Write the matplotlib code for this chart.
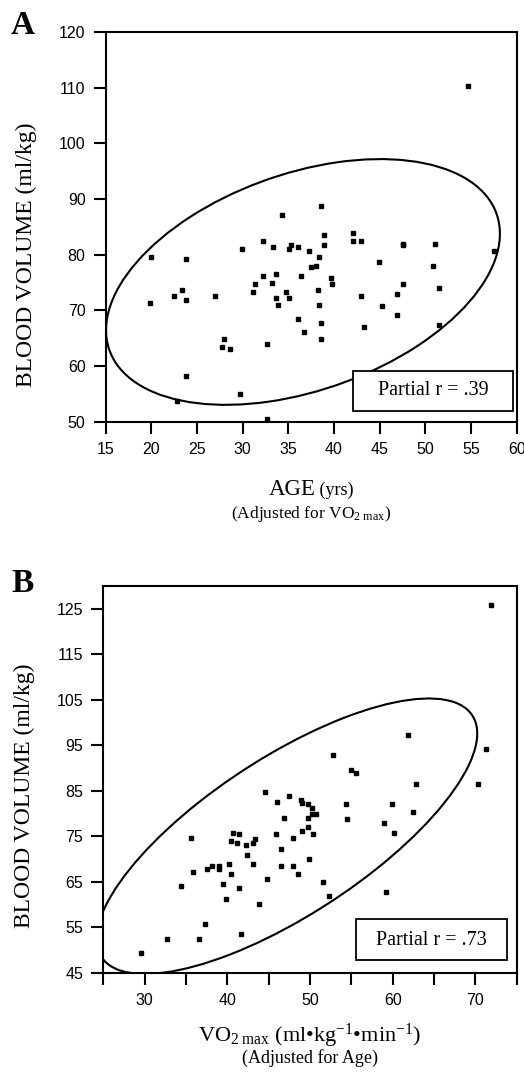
import matplotlib
matplotlib.use('Agg')
import matplotlib.pyplot as plt
from matplotlib.patches import Ellipse, Rectangle

# ---------------- Data ----------------
# Panel A: age (yrs) vs blood volume (ml/kg), adjusted for VO2max
age_a = [54.7, 34.3, 38.6, 38.9, 42.1, 42.1, 43.0, 32.2, 29.9, 33.3,
         35.3, 35.1, 36.0, 37.3, 38.9, 38.4, 47.5, 47.5, 51.1, 57.5,
         20.0, 23.8, 44.9, 50.8, 37.5, 38.0, 32.2, 33.6, 36.4, 39.7,
         39.8, 31.4, 33.2, 47.6, 51.5, 31.1, 34.7, 38.2, 46.9, 43.0,
         27.0, 22.5, 23.3, 23.8, 19.8, 33.6, 35.1, 33.9, 38.4, 45.2,
         46.9, 36.0, 38.6, 43.3, 36.7, 51.5, 27.9, 27.7, 28.6, 32.7,
         38.6, 23.8, 29.7, 22.8, 32.7]
bv_a = [110.3, 87.2, 88.7, 83.5, 83.9, 82.5, 82.5, 82.5, 81.0, 81.3,
        81.7, 81.0, 81.3, 80.6, 81.7, 79.5, 82.0, 81.7, 82.0, 80.6,
        79.5, 79.3, 78.7, 78.0, 77.7, 78.0, 76.2, 76.6, 76.2, 75.8,
        74.7, 74.7, 75.0, 74.7, 74.0, 73.3, 73.3, 73.6, 72.9, 72.5,
        72.5, 72.5, 73.6, 71.8, 71.4, 72.2, 72.2, 71.0, 71.0, 70.7,
        69.2, 68.4, 67.8, 67.0, 66.2, 67.4, 64.8, 63.4, 63.0, 64.0,
        64.8, 58.2, 54.9, 53.8, 50.4]

# Panel B: VO2max (ml/kg/min) vs blood volume (ml/kg), adjusted for age
vo2_b = [71.9, 61.8, 71.3, 52.8, 55.0, 55.6, 62.8, 70.3, 44.6, 47.5,
         46.0, 48.9, 49.0, 49.7, 50.2, 50.2, 50.7, 54.3, 59.9, 62.5,
         54.5, 46.8, 49.7, 58.9, 49.7, 49.0, 60.1, 50.4, 45.9, 40.7,
         41.4, 48.0, 35.6, 40.5, 41.2, 43.3, 43.1, 42.2, 46.5, 42.4,
         49.9, 40.2, 43.1, 46.5, 48.0, 38.1, 39.0, 37.5, 39.0, 35.9,
         40.5, 48.5, 44.8, 51.6, 39.5, 34.4, 41.4, 59.2, 52.3, 39.8,
         43.8, 37.3, 41.7, 32.7, 36.6, 29.6]
bv_b = [125.9, 97.3, 94.1, 92.8, 89.5, 89.0, 86.5, 86.5, 84.7, 83.9,
        82.5, 83.0, 82.4, 82.0, 81.2, 79.8, 79.8, 82.0, 82.0, 80.3,
        78.8, 78.9, 78.9, 78.0, 77.1, 76.2, 75.7, 75.4, 75.4, 75.8,
        75.4, 74.5, 74.5, 74.0, 73.6, 74.4, 73.6, 73.1, 72.2, 70.8,
        69.9, 69.0, 69.0, 68.5, 68.5, 68.5, 68.5, 67.7, 67.8, 67.2,
        66.8, 66.8, 65.5, 65.0, 64.6, 64.1, 63.7, 62.8, 61.9, 61.1,
        60.0, 55.6, 53.4, 52.4, 52.4, 49.4]

# Ellipse parameters (centre x, centre y, full width, full height, angle)
ell_a = (36.6, 75.1, 51.5, 34.0, 46.7)
ell_b = (47.2, 75.0, 71.5, 26.0, 55.2)

xticks_a = [15, 20, 25, 30, 35, 40, 45, 50, 55, 60]
yticks_a = [50, 60, 70, 80, 90, 100, 110, 120]
xticks_b = [25, 30, 35, 40, 45, 50, 55, 60, 65, 70, 75]
xticklabels_b = ['', '30', '', '40', '', '50', '', '60', '', '70', '']
yticks_b = [45, 55, 65, 75, 85, 95, 105, 115, 125]

r_text_a = 'Partial r = .39'
r_text_b = 'Partial r = .73'

# ---------------- Style ----------------
plt.rcParams['font.family'] = ['Liberation Sans', 'DejaVu Sans']
plt.rcParams['mathtext.fontset'] = 'custom'
plt.rcParams['mathtext.rm'] = 'Liberation Serif'
plt.rcParams['mathtext.it'] = 'Liberation Serif:italic'
plt.rcParams['mathtext.bf'] = 'Liberation Serif:bold'
SERIF = ['Liberation Serif', 'DejaVu Serif']

W, H = 524, 1074
fig = plt.figure(figsize=(W / 100, H / 100), dpi=100)
fig.patch.set_facecolor('white')

axA = fig.add_axes([105.7 / W, 1 - 421.7 / H, 411 / W, 389.7 / H])
axB = fig.add_axes([103.3 / W, 1 - 972.7 / H, 413.4 / W, 386.7 / H])


def style(ax):
    for s in ax.spines.values():
        s.set_linewidth(1.5)
        s.set_color('black')
    ax.tick_params(direction='out', length=8.5, width=1.5, pad=6,
                   labelsize=11.5, top=False, right=False, colors='black')


def draw(ax, x, y, ell, xlim, ylim, xt, yt, rtext, box, tpos, xtl=None):
    ax.plot(x, y, linestyle='none', marker='s', markersize=2.6,
            color='black', mec='black', zorder=3)
    e = Ellipse((ell[0], ell[1]), ell[2], ell[3], angle=ell[4],
                fill=False, edgecolor='black', linewidth=1.5, zorder=2)
    ax.add_patch(e)
    ax.set_xlim(*xlim)
    ax.set_ylim(*ylim)
    ax.set_xticks(xt)
    if xtl is not None:
        ax.set_xticklabels(xtl)
    ax.set_yticks(yt)
    style(ax)
    rect = Rectangle((box[0], box[1]), box[2], box[3], transform=ax.transAxes,
                     facecolor='white', edgecolor='black', linewidth=1.3,
                     zorder=4)
    ax.add_patch(rect)
    ax.text(tpos[0], tpos[1], rtext, transform=ax.transAxes, ha='center',
            va='center', fontsize=14.5, family=SERIF, zorder=5)


draw(axA, age_a, bv_a, ell_a, (15, 60), (50, 120), xticks_a, yticks_a,
     r_text_a, (0.601, 0.028, 0.390, 0.103), (0.796, 0.079))
draw(axB, vo2_b, bv_b, ell_b, (25, 75), (45, 130), xticks_b, yticks_b,
     r_text_b, (0.611, 0.033, 0.365, 0.106), (0.793, 0.084), xticklabels_b)

# Panel letters
fig.text(23 / W, 1 - 25 / H, 'A', fontsize=24, fontweight='bold', family=SERIF,
         ha='center', va='center')
fig.text(23 / W, 1 - 584 / H, 'B', fontsize=24, fontweight='bold', family=SERIF,
         ha='center', va='center')

# Y labels
fig.text(26 / W, 1 - 255 / H, 'BLOOD VOLUME (ml/kg)', rotation=90, fontsize=17,
         family=SERIF, ha='center', va='center')
fig.text(24 / W, 1 - 796 / H, 'BLOOD VOLUME (ml/kg)', rotation=90, fontsize=17,
         family=SERIF, ha='center', va='center')

# X labels panel A: "AGE" large + "(yrs)" smaller
cx_a = (105.7 + 516.7) / 2 / W
t_age = fig.text(cx_a, 1 - 495 / H, 'AGE', fontsize=16.5, family=SERIF,
                 ha='left', va='baseline')
t_yrs = fig.text(cx_a, 1 - 495 / H, ' (yrs)', fontsize=13, family=SERIF,
                 ha='left', va='baseline')
fig.canvas.draw()
r = fig.canvas.get_renderer()
w1 = t_age.get_window_extent(r).width / W
w2 = t_yrs.get_window_extent(r).width / W
start = cx_a - (w1 + w2) / 2
t_age.set_x(start)
t_yrs.set_x(start + w1)

fig.text(cx_a, 1 - 514 / H, r'(Adjusted for VO$_{2\ \mathrm{max}}$)', fontsize=12.5,
         family=SERIF, ha='center', va='center')

cx_b = (103.3 + 516.7) / 2 / W
fig.text(cx_b, 1 - 1036 / H,
         r'VO$_{2\ \mathrm{max}}$ (ml•kg$^{\mathrm{-1}}$•min$^{\mathrm{-1}}$)',
         fontsize=16, family=SERIF, ha='center', va='center')
fig.text(cx_b, 1 - 1058 / H, '(Adjusted for Age)', fontsize=13, family=SERIF,
         ha='center', va='center')

fig.savefig('out.png', dpi=100, facecolor='white')
